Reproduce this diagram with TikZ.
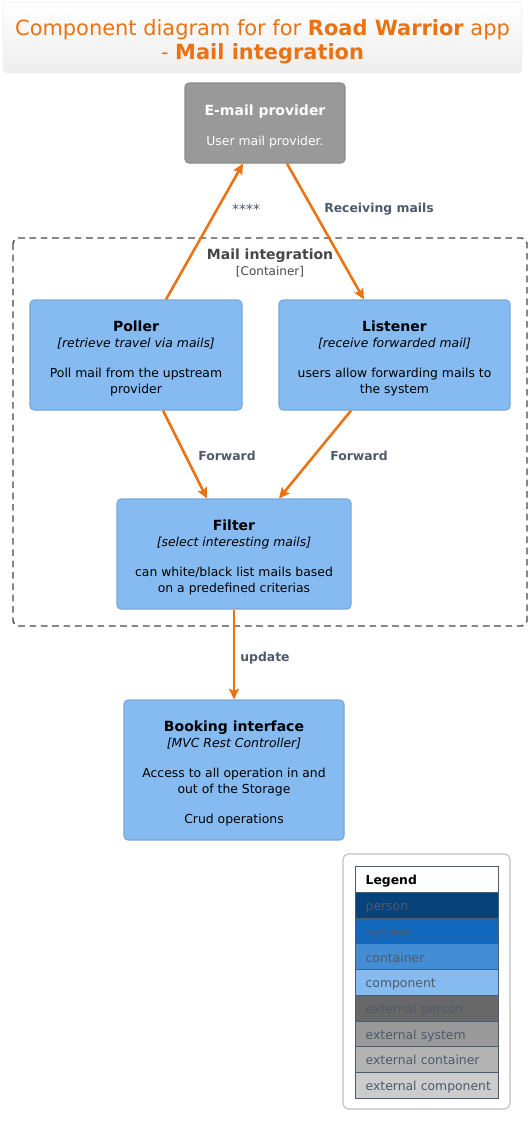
\documentclass[tikz,border=0pt]{standalone}
\usepackage{fontspec}
\setmainfont{DejaVu Sans}
\definecolor{relorange}{HTML}{EC7211}
\definecolor{cmpblue}{HTML}{85BBF0}
\definecolor{cmpborder}{HTML}{78A8D8}
\definecolor{extgray}{HTML}{999999}
\definecolor{lblgray}{HTML}{4D5A6B}
\definecolor{lgdborder}{HTML}{4A5D72}
\newcommand{\hdstrut}{\rule{0pt}{13pt}}
\usetikzlibrary{shapes, arrows.meta, positioning, fit, calc}

\begin{document}
\begin{tikzpicture}[x=0.75pt, y=-0.75pt,
        cmp/.style={draw=cmpborder, fill=cmpblue, rounded corners=3pt, line width=0.8pt,
                      align=center, font=\fontsize{9.3}{12}\selectfont, inner sep=0pt},
        ext/.style={draw=extgray!90!black, fill=extgray, rounded corners=3pt, line width=0.8pt,
                      align=center, text=white, font=\fontsize{9.3}{12}\selectfont, inner sep=0pt},
        rel/.style={-{Stealth[length=8pt, width=7.5pt, inset=1.5pt]}, line width=1.9pt, relorange},
        rlbl/.style={text=lblgray, font=\fontsize{9.3}{11}\selectfont\bfseries},
        lgd/.style={draw=lgdborder, line width=0.7pt, minimum width=107.25pt, minimum height=19.3pt,
                      inner sep=0pt, text width=92pt, align=left, text=lblgray,
                      text height=8.5pt, text depth=0.5pt, font=\fontsize{9.3}{11}\selectfont}
      ]
        \useasboundingbox (0,0) rectangle (532,1125);

        % title
        \node[draw=black!8, rounded corners=3pt, top color=white, bottom color=black!7,
              minimum width=389pt, minimum height=53pt, align=center, text=relorange,
              font=\fontsize{15.7}{18}\selectfont] (title) at (262.5,37.5)
              {\rule{0pt}{18.5pt}Component diagram for for \textbf{Road Warrior} app\\- \textbf{Mail integration}};

        % container boundary
        \draw[dashed, dash pattern=on 5pt off 3.5pt, draw=black!72, line width=1.1pt, rounded corners=4pt]
              (13,238) rectangle (527,626);
        \node[align=center, text=black!72, font=\fontsize{10.5}{12}\selectfont] (boundary) at (270,263)
              {\textbf{Mail integration}\\{\fontsize{9}{10}\selectfont [Container]}};

        % elements
        \node[ext, minimum width=120pt, minimum height=60pt] (provider) at (265,123)
              {{\fontsize{10.5}{12}\selectfont\bfseries\hdstrut E-mail provider}\\[10.5pt]User mail provider.};
        \node[cmp, minimum width=159pt, minimum height=82.5pt] (poller) at (136,355)
              {{\fontsize{10.5}{12}\selectfont\bfseries\hdstrut Poller}\\\textit{[retrieve travel via mails]}\\[10.5pt]
               Poll mail from the upstream\\provider};
        \node[cmp, minimum width=173.25pt, minimum height=82.5pt] (listener) at (394.5,355)
              {{\fontsize{10.5}{12}\selectfont\bfseries\hdstrut Listener}\\\textit{[receive forwarded mail]}\\[10.5pt]
               users allow forwarding mails to\\the system};
        \node[cmp, minimum width=175.5pt, minimum height=82.5pt] (filter) at (234,554)
              {{\fontsize{10.5}{12}\selectfont\bfseries\hdstrut Filter}\\\textit{[select interesting mails]}\\[10.5pt]
               can white/black list mails based\\on a predefined criterias};
        \node[cmp, minimum width=165pt, minimum height=105pt] (booking) at (234,770)
              {{\fontsize{10.5}{12}\selectfont\bfseries\hdstrut Booking interface}\\\textit{[MVC Rest Controller]}\\[10.5pt]
               Access to all operation in and\\out of the Storage\\[10.5pt]Crud operations};

        % relations
        \draw[rel] ($(poller.north)+(30,0)$) -- ($(provider.south)+(-22,0)$);
        \draw[rel] ($(provider.south)+(22,0)$) -- ($(listener.north)+(-30.5,0)$);
        \draw[rel] ($(poller.south)+(27,0)$) -- ($(filter.north)+(-27,0)$);
        \draw[rel] ($(listener.south)+(-43.5,0)$) -- ($(filter.north)+(45,0)$);
        \draw[rel] (filter.south) -- (booking.north);

        \node[text=lblgray, font=\fontsize{10.5}{11}\selectfont] (lblpoll) at (246,209) {****};
        \node[rlbl] (lblrecv) at (379,209) {Receiving mails};
        \node[rlbl] (lblfwda) at (227,456) {Forward};
        \node[rlbl] (lblfwdb) at (359,456) {Forward};
        \node[rlbl] (lblupd) at (265,658) {update};

        % legend
        \draw[draw=black!25, rounded corners=4pt, line width=0.8pt] (343,854) rectangle (510,1109);
        \node[lgd, fill=white, text=black, font=\fontsize{9.3}{11}\selectfont\bfseries, anchor=north west]
              (lgdhead) at (355,866) {Legend};
        \foreach \fc/\txt [count=\i from 0] in {08427B/person, 1168BD/system, 438DD5/container,
              85BBF0/component, 686868/external person, 999999/external system,
              B3B3B3/external container, CCCCCC/external component} {
          \definecolor{lgdfill}{HTML}{\fc}
          \node[lgd, fill=lgdfill, anchor=north west] (lgd\i) at (355,892+25.7*\i) {\mbox{\txt}};
        }
      \end{tikzpicture}
\end{document}
